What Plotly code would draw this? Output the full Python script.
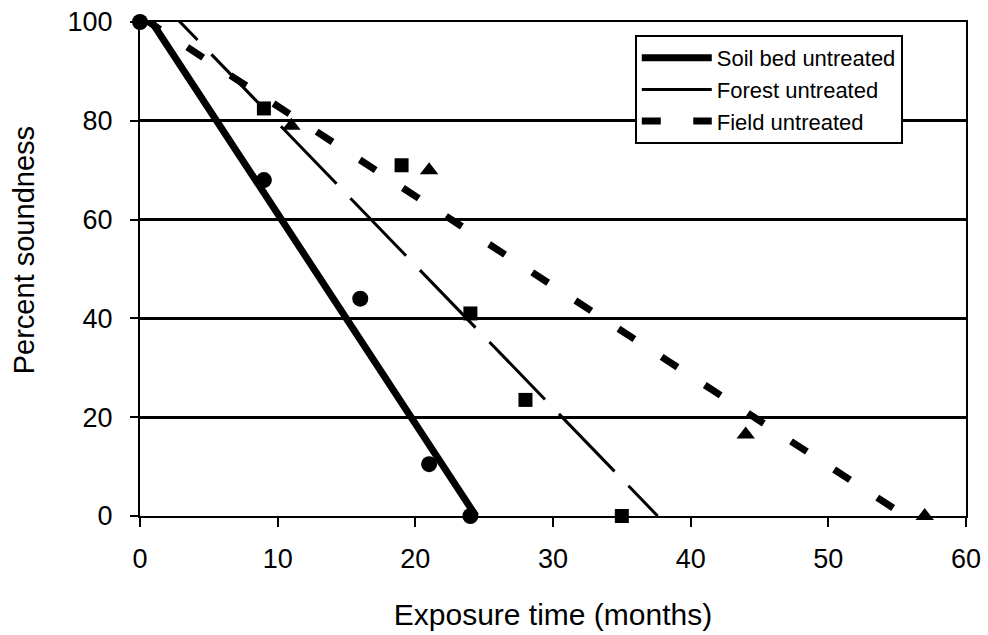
import plotly.graph_objects as go

# Observed data points
soil_x = [0, 9, 16, 21, 24]
soil_y = [100, 68, 44, 10.5, 0]
forest_x = [9, 19, 24, 28, 35]
forest_y = [82.5, 71, 41, 23.5, 0]
field_x = [11, 21, 44, 57]
field_y = [79, 70, 16.5, 0]

# Trend line endpoints (starts slightly above the frame)
soil_fit_x = [0.86, 24.4]
soil_fit_y = [100, 0]
forest_fit_x = [0.14, 37.6]
forest_fit_y = [108, 0]
field_fit_x = [0.3, 55.6]
field_fit_y = [100.6, 0]

x_ticks = [0, 10, 20, 30, 40, 50, 60]
y_ticks = [0, 20, 40, 60, 80, 100]

FONT = "Liberation Sans, Arial, sans-serif"

fig = go.Figure()

fig.add_trace(go.Scatter(x=soil_fit_x, y=soil_fit_y, mode="lines",
                         name="Soil bed untreated",
                         line=dict(color="black", width=7)))
fig.add_trace(go.Scatter(x=forest_fit_x, y=forest_fit_y, mode="lines",
                         name="Forest untreated",
                         line=dict(color="black", width=3, dash="80px,20px")))
fig.add_trace(go.Scatter(x=field_fit_x, y=field_fit_y, mode="lines",
                         name="Field untreated",
                         line=dict(color="black", width=7, dash="19px,32.5px")))

fig.add_trace(go.Scatter(x=soil_x, y=soil_y, mode="markers", showlegend=False,
                         cliponaxis=False,
                         marker=dict(symbol="circle", size=16, color="black")))
fig.add_trace(go.Scatter(x=forest_x, y=forest_y, mode="markers", showlegend=False,
                         cliponaxis=False,
                         marker=dict(symbol="square", size=14, color="black")))
fig.add_trace(go.Scatter(x=field_x, y=field_y, mode="markers", showlegend=False,
                         cliponaxis=False,
                         marker=dict(symbol="triangle-up", size=16, color="black")))

fig.update_layout(
    width=988, height=635,
    margin=dict(l=140, r=22, t=22, b=119),
    paper_bgcolor="white", plot_bgcolor="white",
    font=dict(family=FONT, color="black", size=27),
    legend=dict(x=0.599, y=0.9737, xanchor="left", yanchor="top",
                bgcolor="white", bordercolor="black", borderwidth=2,
                font=dict(family=FONT, size=22, color="black"),
                tracegroupgap=0, itemwidth=70),
    annotations=[dict(text="Percent soundness", xref="paper", yref="paper",
                      x=-0.1404, y=0.538, textangle=-90, showarrow=False,
                      xanchor="center", yanchor="middle",
                      font=dict(family=FONT, size=29, color="black"))],
)

fig.update_xaxes(range=[0, 60], tickvals=x_ticks, ticktext=[str(v) for v in x_ticks],
                 automargin=False,
                 showgrid=False, zeroline=False,
                 showline=True, linecolor="black", linewidth=2, mirror=True,
                 ticks="outside", ticklen=9, tickwidth=2, tickcolor="black",
                 ticklabelstandoff=9,
                 tickfont=dict(family=FONT, size=27, color="black"),
                 title=dict(text="Exposure time (months)", standoff=31,
                            font=dict(family=FONT, size=30, color="black")))
fig.update_yaxes(range=[0, 100], tickvals=y_ticks, ticktext=[str(v) for v in y_ticks],
                 automargin=False,
                 showgrid=True, gridcolor="black", gridwidth=3, zeroline=False,
                 showline=True, linecolor="black", linewidth=2, mirror=True,
                 ticks="outside", ticklen=8, tickwidth=2, tickcolor="black",
                 ticklabelstandoff=12,
                 tickfont=dict(family=FONT, size=27, color="black"))

fig.write_html("out.html")
